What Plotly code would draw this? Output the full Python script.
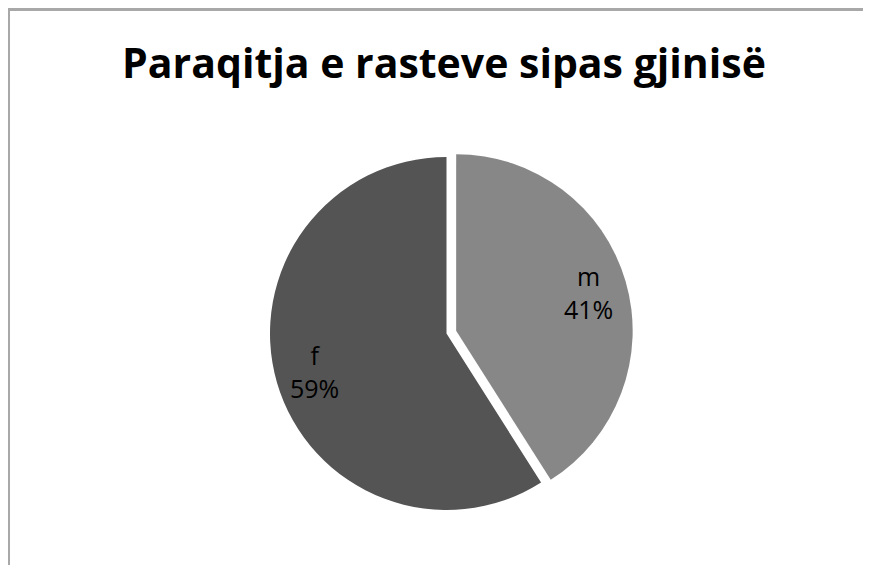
import math
import plotly.graph_objects as go

categories = ["m", "f"]
values = [41, 59]
colors = ["#878787", "#545454"]
pulls = [0.057, 0]
title_text = "Paraqitja e rasteve sipas gjinisë"

W, H = 871, 565

# pie geometry in figure pixels (page has an 8px body offset)
CX, CY, R = 438.5, 325.5, 176.5
HALF = R * (1 + max(pulls))
LABEL_R = 0.78

fig = go.Figure(go.Pie(
    labels=categories,
    values=values,
    sort=False,
    direction="clockwise",
    rotation=0,
    pull=pulls,
    marker=dict(colors=colors, line=dict(color="white", width=0)),
    textinfo="none",
    showlegend=False,
    hoverinfo="label+percent",
    domain=dict(x=[(CX - HALF) / W, (CX + HALF) / W],
                y=[1 - (CY + HALF) / H, 1 - (CY - HALF) / H]),
))

# slice labels placed at each slice's mid-angle (derived from values)
total = sum(values)
annotations = []
cum = 0
for lab, v, p in zip(categories, values, pulls):
    mid = (cum + v / 2) / total * 2 * math.pi
    cum += v
    ox = CX + p * R * math.sin(mid)
    oy = CY - p * R * math.cos(mid)
    lx = ox + LABEL_R * R * math.sin(mid)
    ly = oy - LABEL_R * R * math.cos(mid)
    annotations.append(dict(
        x=lx / W, y=1 - ly / H, xref="paper", yref="paper",
        text=f"{lab}<br>{v / total * 100:.0f}%",
        showarrow=False, xanchor="center", yanchor="middle",
        font=dict(family="Open Sans", size=25, color="#000000"),
    ))

fig.update_layout(
    width=W,
    height=H,
    margin=dict(l=0, r=0, t=0, b=0),
    paper_bgcolor="white",
    plot_bgcolor="white",
    title=dict(
        text=title_text,
        x=436 / W,
        xanchor="center",
        y=1 - 56 / H,
        yanchor="middle",
        font=dict(family="Open Sans", size=41, color="black", weight="bold"),
    ),
    annotations=annotations,
    shapes=[
        dict(type="line", xref="paper", yref="paper",
             x0=0.5 / W, x1=0.5 / W, y0=0, y1=1 - 1.5 / H,
             line=dict(color="#a8a8a8", width=3)),
        dict(type="line", xref="paper", yref="paper",
             x0=0, x1=1, y0=1 - 1.5 / H, y1=1 - 1.5 / H,
             line=dict(color="#a8a8a8", width=3)),
    ],
)

fig.write_html("out.html")
